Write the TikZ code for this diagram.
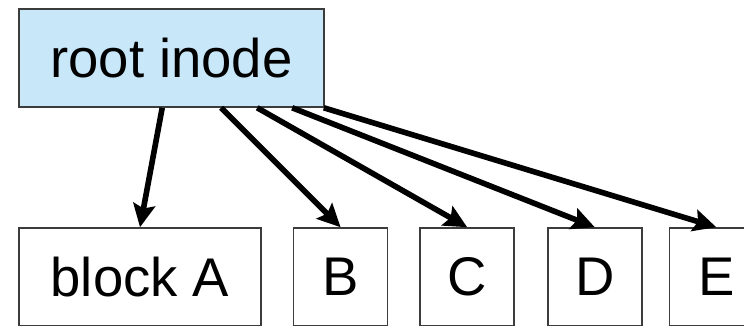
\documentclass[tikz,border=0pt]{standalone}
\usepackage{fontspec}
\setmainfont{Liberation Sans}
\usepackage{tikz}
\usetikzlibrary{positioning, arrows.meta}
\definecolor{inodeblue}{RGB}{200, 232, 250}
\definecolor{boxline}{RGB}{60, 60, 60}

\begin{document}
\begin{tikzpicture}[
    inodebox/.style={draw=boxline, fill=inodeblue, line width=0.9pt, inner sep=0pt, minimum width=6.1cm, minimum height=1.96cm, font=\fontsize{31}{37}\selectfont},
    blockbox/.style={draw=boxline, fill=white, line width=0.9pt, inner sep=0pt, minimum width=1.88cm, minimum height=1.96cm, font=\fontsize{31}{37}\selectfont},
    arrow/.style={-{Stealth[length=0.46cm, width=0.44cm, inset=0.08cm]}, line width=3.2pt, black}
]
    \useasboundingbox (0,0) rectangle (14.88,6.52);

    % Nodos
    \node (root) [inodebox] at (3.43,5.36) {root inode};

    \node (blockA) [blockbox, minimum width=4.84cm] at (2.80,0.98) {block A};
    \node (blockB) [blockbox, right=0.62cm of blockA] {B};
    \node (blockC) [blockbox, right=0.62cm of blockB] {C};
    \node (blockD) [blockbox, right=0.64cm of blockC] {D};
    \node (blockE) [blockbox, right=0.52cm of blockD] {E};

    % Flechas
    \draw [arrow] ([xshift=2.88cm]root.south west) -- (blockA.north);
    \draw [arrow] ([xshift=4.06cm]root.south west) -- (blockB.north);
    \draw [arrow] ([xshift=4.78cm]root.south west) -- (blockC.north);
    \draw [arrow] ([xshift=5.48cm]root.south west) -- (blockD.north);
    \draw [arrow] ([xshift=-0.02cm]root.south east) -- (blockE.north);
\end{tikzpicture}
\end{document}
